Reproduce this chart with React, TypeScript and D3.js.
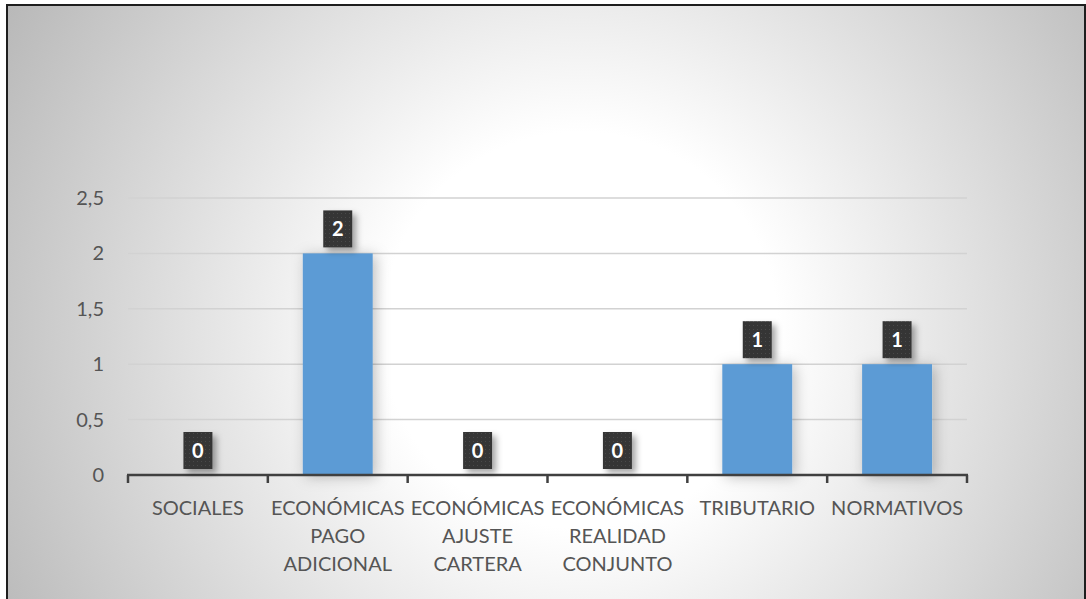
import React from "react";
import * as d3 from "d3";

const categories = [
  "SOCIALES",
  "ECONÓMICAS PAGO ADICIONAL",
  "ECONÓMICAS AJUSTE CARTERA",
  "ECONÓMICAS REALIDAD CONJUNTO",
  "TRIBUTARIO",
  "NORMATIVOS",
];
const values = [0, 2, 0, 0, 1, 1];
const yTicks = [0, 0.5, 1, 1.5, 2, 2.5];
const yTickLabels = ["0", "0,5", "1", "1,5", "2", "2,5"];

const W = 1086;
const H = 599;
const FONT = "Lato, 'Open Sans', sans-serif";

export default function App() {
  const x = d3
    .scaleBand<string>()
    .domain(categories)
    .range([128, 967])
    .paddingInner(0.5)
    .paddingOuter(0.25);
  const y = d3.scaleLinear().domain([0, 2.5]).range([475, 198]);
  const step = x.step();
  const boundaries = d3.range(categories.length + 1).map((i) => 128 + i * step);

  return (
    <svg
      width={W}
      height={H}
      style={{ position: "absolute", left: 0, top: 0 }}
      xmlns="http://www.w3.org/2000/svg"
    >
      <defs>
        <radialGradient id="bg" gradientUnits="userSpaceOnUse" cx={580} cy={330} r={660}>
          <stop offset="0" stopColor="#ffffff" />
          <stop offset="0.3" stopColor="#ffffff" />
          <stop offset="1" stopColor="#b8b8b8" />
        </radialGradient>
        <filter id="barShadow" x="-50%" y="-20%" width="200%" height="140%">
          <feDropShadow dx="3" dy="2" stdDeviation="7" floodColor="#000" floodOpacity="0.25" />
        </filter>
        <filter id="lblShadow" x="-50%" y="-50%" width="200%" height="200%">
          <feDropShadow dx="4" dy="4" stdDeviation="3" floodColor="#000" floodOpacity="0.35" />
        </filter>
        <pattern id="dots" width="4" height="4" patternUnits="userSpaceOnUse">
          <rect width="4" height="4" fill="#363636" />
          <rect x="1" y="1" width="1" height="1" fill="#4a4a4a" />
        </pattern>
      </defs>

      <rect x={0} y={0} width={W} height={H} fill="#ffffff" />
      <rect x={7} y={5} width={1078} height={H + 10} fill="url(#bg)" stroke="#1e1e1e" strokeWidth={2} />

      {/* gridlines */}
      {yTicks.slice(1).map((t) => (
        <line key={t} x1={128} x2={967} y1={y(t)} y2={y(t)} stroke="#d2d2d2" strokeWidth={1.5} />
      ))}

      {/* y labels */}
      {yTicks.map((t, i) => (
        <text
          key={t}
          x={104}
          y={y(t)}
          dy="0.35em"
          textAnchor="end"
          fontFamily={FONT}
          fontSize={20}
          fill="#555555"
        >
          {yTickLabels[i]}
        </text>
      ))}

      {/* bars */}
      {categories.map((c, i) =>
        values[i] > 0 ? (
          <rect
            key={c}
            x={x(c)}
            y={y(values[i])}
            width={x.bandwidth()}
            height={y(0) - y(values[i])}
            fill="#5b9bd5"
            filter="url(#barShadow)"
          />
        ) : null
      )}

      {/* axis */}
      <line x1={127} x2={968} y1={475} y2={475} stroke="#404040" strokeWidth={2.5} />
      {boundaries.map((b, i) => (
        <line key={i} x1={b} x2={b} y1={475} y2={483} stroke="#404040" strokeWidth={2.5} />
      ))}

      {/* data labels */}
      {categories.map((c, i) => {
        const cx = (x(c) as number) + x.bandwidth() / 2;
        const top = y(values[i]);
        const bw = 29;
        const bh = 37;
        return (
          <g key={c}>
            <rect
              x={cx - bw / 2}
              y={top - 6 - bh}
              width={bw}
              height={bh}
              fill="url(#dots)"
              filter="url(#lblShadow)"
            />
            <text
              x={cx}
              y={top - 6 - bh / 2}
              dy="0.36em"
              textAnchor="middle"
              fontFamily={FONT}
              fontSize={20}
              fontWeight={700}
              fill="#ffffff"
            >
              {values[i]}
            </text>
          </g>
        );
      })}

      {/* x labels */}
      {categories.map((c) => {
        const cx = (x(c) as number) + x.bandwidth() / 2;
        return (
          <text key={c} textAnchor="middle" fontFamily={FONT} fontSize={20} fill="#555555">
            {c.split(" ").map((w, j) => (
              <tspan key={j} x={cx} y={515 + j * 28}>
                {w}
              </tspan>
            ))}
          </text>
        );
      })}
    </svg>
  );
}
